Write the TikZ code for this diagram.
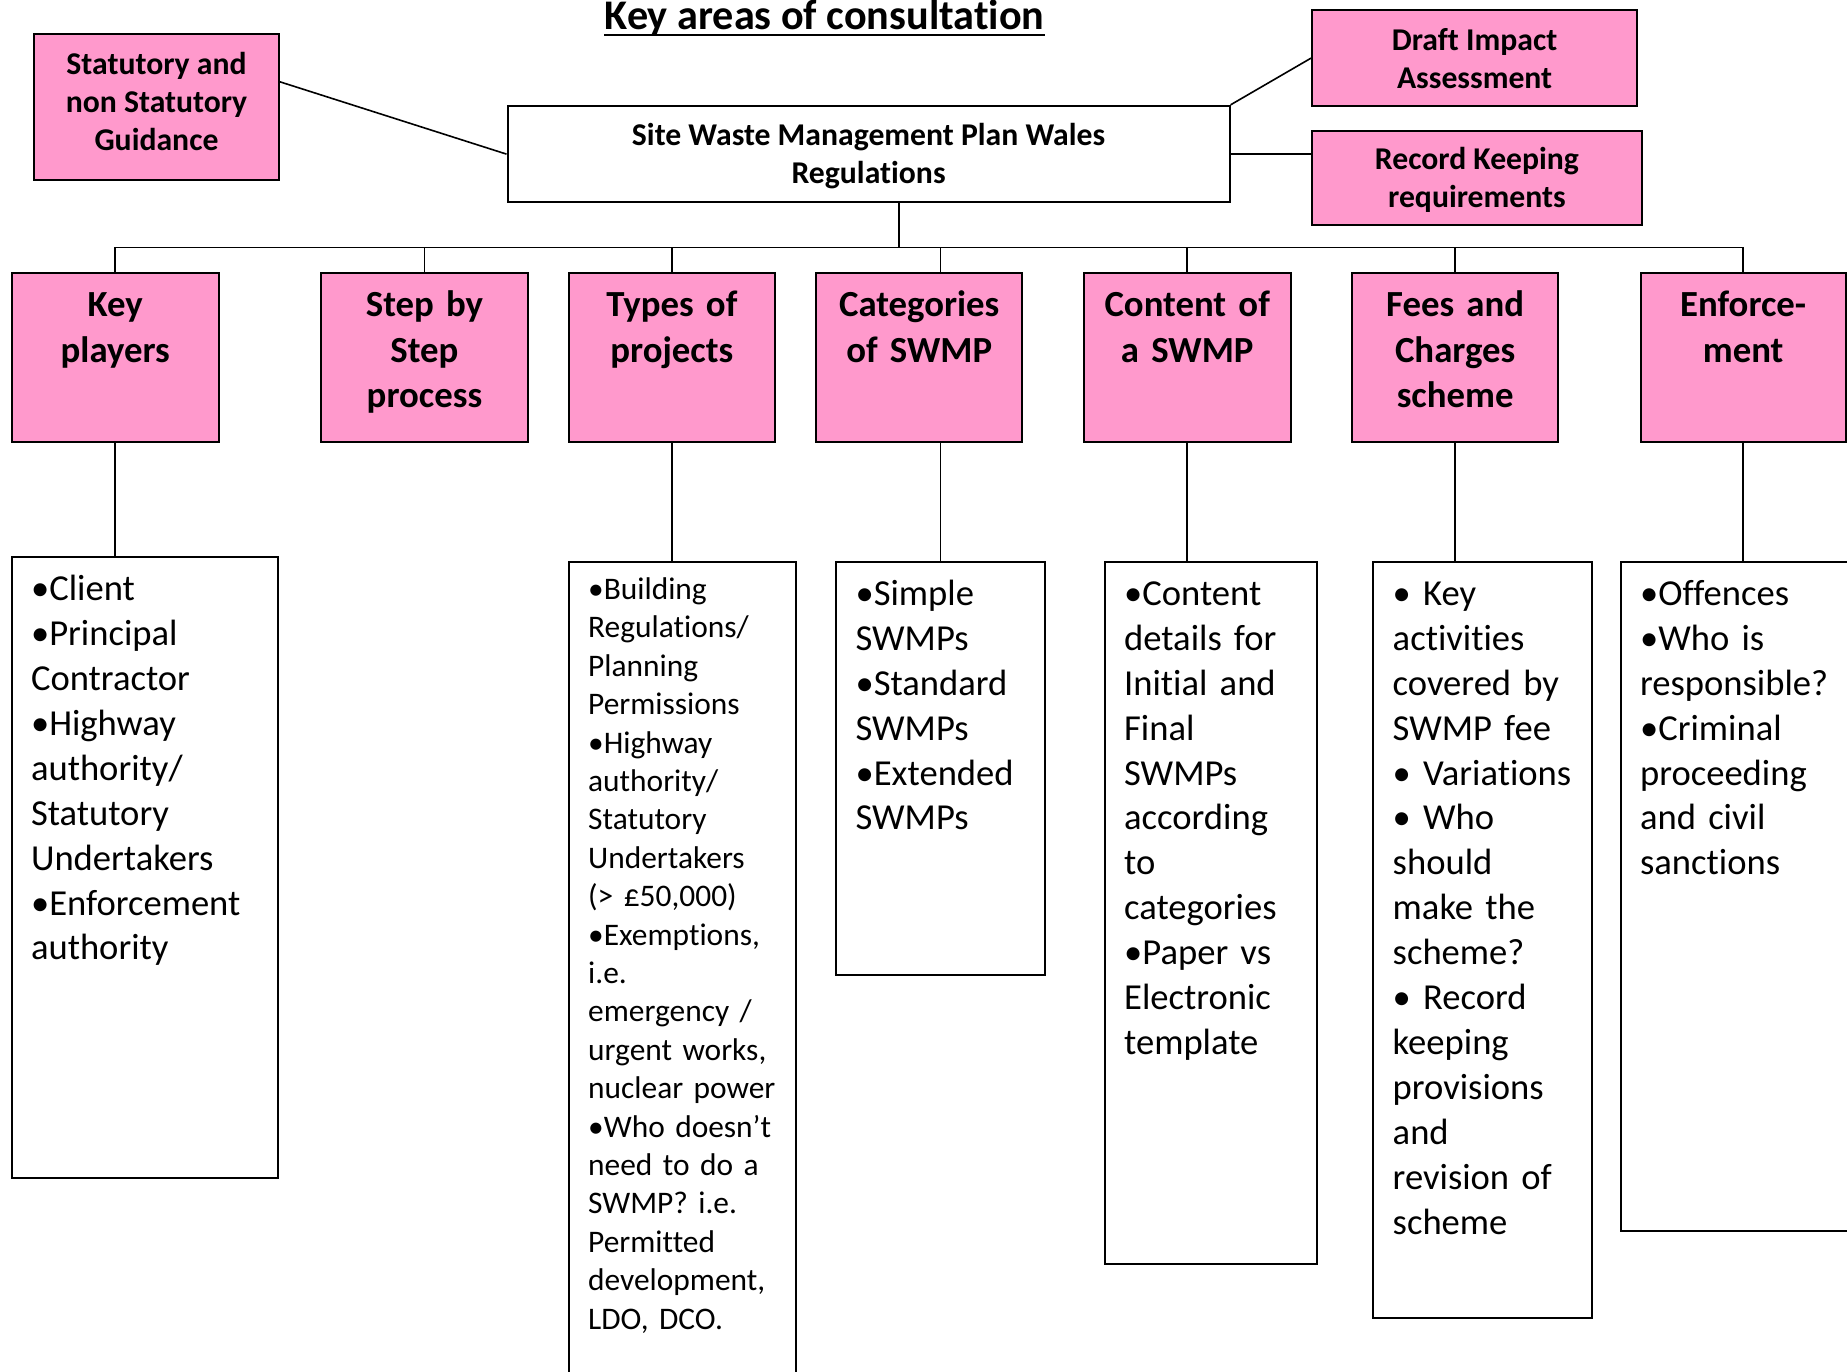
\documentclass[tikz,border=0pt]{standalone}
\usepackage{fontspec}
\setmainfont{Carlito}[Ligatures={NoCommon}]
\usetikzlibrary{calc}
\definecolor{pinkfill}{RGB}{255,153,204}
\def\U{0.58897pt}
\newcommand\mybox[7]{\node[#1, minimum width={(#4-#2)*\U}, minimum height={(#5-#3)*\U}] (#6) at (#2,#3) {#7};}
\tikzset{
 pinkbox/.style={draw=black, fill=pinkfill, line width=1pt, inner sep=0pt, anchor=north west},
 whitebox/.style={draw=black, fill=white, line width=1pt, inner sep=0pt, anchor=north west},
 conn/.style={draw=black, line width=0.8pt},
 toptext/.style={font=\bfseries\fontsize{15.85}{19}\selectfont, align=center, inner sep=0pt},
 headtext/.style={font=\bfseries\fontsize{18.4}{22.6}\selectfont, align=center, text width=170*\U, anchor=base, inner sep=0pt},
 listtext/.style={font=\fontsize{18.3}{22.45}\selectfont, align=left, text width=205*\U, anchor=base west, inner sep=0pt},
 smalllist/.style={font=\fontsize{15.7}{19.2}\selectfont, align=left, text width=190*\U, anchor=base west, inner sep=0pt},
}
\begin{document}
\begin{tikzpicture}[x=0.58897pt, y=-0.58897pt]
\useasboundingbox (0,0) rectangle (1568,1164);
\clip (0,0) rectangle (1568,1164);
\fill[white] (0,0) rectangle (1568,1164);

% title
\node[font=\bfseries\fontsize{21.1}{25}\selectfont, anchor=base, inner sep=0pt] (title) at (700,25) {Key areas of consultation};
\draw[line width=1.1pt] ([yshift=-4.5*\U]title.base west) -- ([yshift=-4.5*\U]title.base east);

% top boxes
\mybox{pinkbox}{28}{28}{236}{152}{stat}{}
\mybox{whitebox}{430}{89}{1043}{171}{reg}{}
\mybox{pinkbox}{1113}{8}{1389}{89}{dia}{}
\mybox{pinkbox}{1113}{110}{1393}{190}{rec}{}
\node[toptext] (statT) at ($(stat.center)+(0,-5)$) {Statutory and\\non Statutory\\Guidance};
\node[toptext] (regT) at ($(reg.center)+(0,2)$) {Site Waste Management Plan Wales\\Regulations};
\node[toptext] (diaT) at (dia.center) {Draft Impact\\Assessment};
\node[toptext] (recT) at ($(rec.center)+(0,2)$) {Record Keeping\\requirements};

\draw[conn] ($(stat.north east)!0.33!(stat.south east)$) -- (reg.west);
\draw[conn] (reg.north east) -- (dia.west);
\draw[conn] (reg.east) -- (reg.east -| rec.west);

% heading boxes
\mybox{pinkbox}{9}{231}{185}{374}{kp}{}
\mybox{pinkbox}{272}{231}{447}{374}{step}{}
\mybox{pinkbox}{482}{231}{657}{374}{types}{}
\mybox{pinkbox}{692}{231}{867}{374}{cats}{}
\mybox{pinkbox}{919}{231}{1095}{374}{cont}{}
\mybox{pinkbox}{1147}{231}{1322}{374}{fees}{}
\mybox{pinkbox}{1392}{231}{1566}{374}{enf}{}

\node[headtext] (kpT) at ($(kp.north)+(0,38)$) {Key\\players};
\node[headtext] (stepT) at ($(step.north)+(0,38)$) {Step by\\Step\\process};
\node[headtext] (typesT) at ($(types.north)+(0,38)$) {Types of\\projects};
\node[headtext] (catsT) at ($(cats.north)+(0,38)$) {Categories\\of SWMP};
\node[headtext] (contT) at ($(cont.north)+(0,38)$) {Content of\\a SWMP};
\node[headtext] (feesT) at ($(fees.north)+(0,38)$) {Fees and\\Charges\\scheme};
\node[headtext] (enfT) at ($(enf.north)+(0,38)$) {Enforce-\\ment};

% list boxes
\mybox{whitebox}{9}{472}{235}{999}{kpl}{}
\mybox{whitebox}{482}{476}{675}{1190}{tpl}{}
\mybox{whitebox}{709}{476}{886}{827}{cal}{}
\mybox{whitebox}{937}{476}{1117}{1072}{col}{}
\mybox{whitebox}{1165}{476}{1351}{1118}{fel}{}
\mybox{whitebox}{1375}{476}{1600}{1044}{enl}{}

\node[listtext] (kplT) at ($(kpl.north west)+(17,38)$) {•Client\\•Principal\\Contractor\\•Highway\\authority/\\Statutory\\Undertakers\\•Enforcement\\authority};
\node[smalllist] (tplT) at ($(tpl.north west)+(17,33)$) {•Building\\Regulations/\\Planning\\Permissions\\•Highway\\authority/\\Statutory\\Undertakers\\(> £50,000)\\•Exemptions,\\i.e.\\emergency /\\urgent works,\\nuclear power\\•Who doesn’t\\need to do a\\SWMP? i.e.\\Permitted\\development,\\LDO, DCO.};
\node[listtext] (calT) at ($(cal.north west)+(17,38)$) {•Simple\\SWMPs\\•Standard\\SWMPs\\•Extended\\SWMPs};
\node[listtext] (colT) at ($(col.north west)+(17,38)$) {•Content\\details for\\Initial and\\Final\\SWMPs\\according\\to\\categories\\•Paper vs\\Electronic\\template};
\node[listtext] (felT) at ($(fel.north west)+(17,38)$) {• Key\\activities\\covered by\\SWMP fee\\• Variations\\• Who\\should\\make the\\scheme?\\• Record\\keeping\\provisions\\and\\revision of\\scheme};
\node[listtext] (enlT) at ($(enl.north west)+(17,38)$) {•Offences\\•Who is\\responsible?\\•Criminal\\proceeding\\and civil\\sanctions};

% tree connectors
\coordinate (bus) at (763,210);
\draw[conn] (bus |- reg.south) -- (bus);
\draw[conn] (kp.north |- bus) -- (enf.north |- bus);
\draw[conn] (kp.north |- bus) -- (kp.north);
\draw[conn] (step.north |- bus) -- (step.north);
\draw[conn] (types.north |- bus) -- (types.north);
\draw[conn] (cal.north |- bus) -- (cal.north |- cats.north);
\draw[conn] (cont.north |- bus) -- (cont.north);
\draw[conn] (fees.north |- bus) -- (fees.north);
\draw[conn] (enf.north |- bus) -- (enf.north);

\draw[conn] (kp.south) -- (kp.south |- kpl.north);
\draw[conn] (types.south) -- (types.south |- tpl.north);
\draw[conn] (cal.north |- cats.south) -- (cal.north);
\draw[conn] (cont.south) -- (cont.south |- col.north);
\draw[conn] (fees.south) -- (fees.south |- fel.north);
\draw[conn] (enf.south) -- (enf.south |- enl.north);
\end{tikzpicture}
\end{document}
